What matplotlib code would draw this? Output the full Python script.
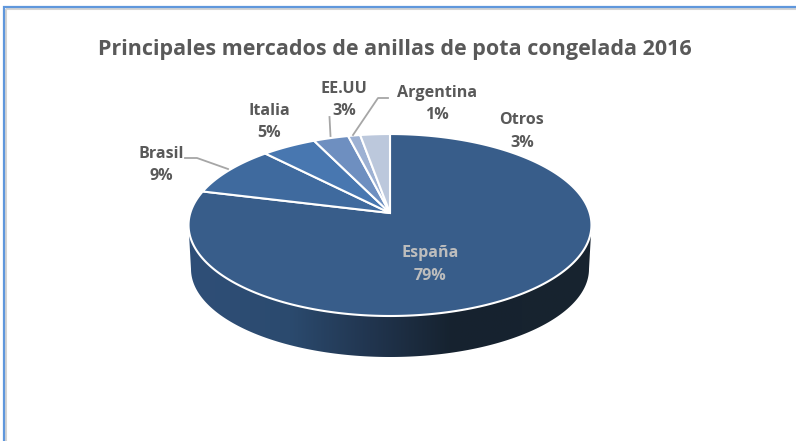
import numpy as np
import matplotlib
matplotlib.use('Agg')
import matplotlib.pyplot as plt
from matplotlib.colors import LinearSegmentedColormap
from matplotlib.patches import Polygon

plt.rcParams['font.family'] = ['Open Sans', 'DejaVu Sans']

# datos
titulo = 'Principales mercados de anillas de pota congelada 2016'
mercados = ['España', 'Brasil', 'Italia', 'EE.UU', 'Argentina', 'Otros']
valores = [79, 9, 5, 3.2, 1.1, 2.7]
colores = ['#385d8a', '#3f6a9e', '#4877b0', '#6e8fc0', '#9db1d3', '#bcc8dc']
pos_etiquetas = [(430, 264.5), (161, 165), (269, 122), (344, 100), (437, 104), (522, 131.5)]
col_etiquetas = ['#bdbdbd', '#595959', '#595959', '#595959', '#595959', '#595959']

# geometria del pastel (pixeles)
cx, cy = 390, 213
k = 0.132
sx, sy = 199.7, 89.4
fondo_y, fondo_a, fondo_b = 269, 199, 88


def punto(ang):
    # perspectiva: el centro del pastel no es el centro de la elipse
    u, v = np.sin(ang), np.cos(ang)
    return cx + sx * u / (1 + k * v), cy - sy * v / (1 + k * v)


fig = plt.figure(figsize=(7.96, 4.41), dpi=100)
ax = fig.add_axes([0, 0, 1, 1])
ax.set_xlim(0, 796)
ax.set_ylim(441, 0)
ax.axis('off')

# marco
ax.plot([6, 796], [9, 9], color='#d4d4d4', lw=1.5, solid_capstyle='butt')
ax.plot([6, 6], [9, 441], color='#d4d4d4', lw=1.5, solid_capstyle='butt')
ax.plot([4, 4, 796], [441, 7, 7], color='#5f97dc', lw=1.6, solid_joinstyle='miter')

# lateral con degradado
t = np.linspace(0, np.pi, 200)
xa = 390 + 201.5 * np.cos(t)
ya = 225 + 91 * np.sin(t)
xb = 390 + fondo_a * np.cos(t[::-1])
yb = fondo_y + fondo_b * np.sin(t[::-1])
lateral = Polygon(np.column_stack([np.r_[xa, xb], np.r_[ya, yb]]), closed=True,
                  fc='none', ec='none')
ax.add_patch(lateral)
cmap = LinearSegmentedColormap.from_list('lado', [(0, '#2f4f78'), (0.25, '#2b4a6e'), (0.45, '#21354f'),
                                                  (0.655, '#16222f'), (1, '#18242f')])
img = ax.imshow(np.linspace(0, 1, 256)[None, :], cmap=cmap, aspect='auto',
                extent=(189, 592, 360, 220), zorder=1)
img.set_clip_path(lateral)
ax.set_xlim(0, 796)
ax.set_ylim(441, 0)

# sectores
acum = np.cumsum([0] + valores) / sum(valores) * 2 * np.pi
for i in range(len(valores)):
    a = np.linspace(acum[i], acum[i + 1], 300)
    x, y = punto(a)
    ax.add_patch(Polygon(np.column_stack([np.r_[cx, x], np.r_[cy, y]]), closed=True,
                         fc=colores[i], ec='white', lw=1.5, joinstyle='miter', zorder=2))

# lineas guia
guia = '#a6a6a6'
ax.plot([185, 197, 228], [158, 158, 169], color=guia, lw=1.3, zorder=3)
ax.plot([329.5, 330.5], [117, 136], color=guia, lw=1.3, zorder=3)
ax.plot([388, 378, 353], [98, 98, 135], color=guia, lw=1.3, zorder=3)

# textos
for nombre, val, pos, col in zip(mercados, valores, pos_etiquetas, col_etiquetas):
    ax.text(pos[0], pos[1], '%s\n%d%%' % (nombre, round(val)), color=col, fontsize=11.6,
            fontweight='bold', ha='center', va='center', linespacing=1.52, zorder=4)
ax.text(394.5, 50, titulo, color='#595959', fontsize=15.45, fontweight='bold',
        ha='center', va='center')

fig.savefig('out.png', dpi=100)
